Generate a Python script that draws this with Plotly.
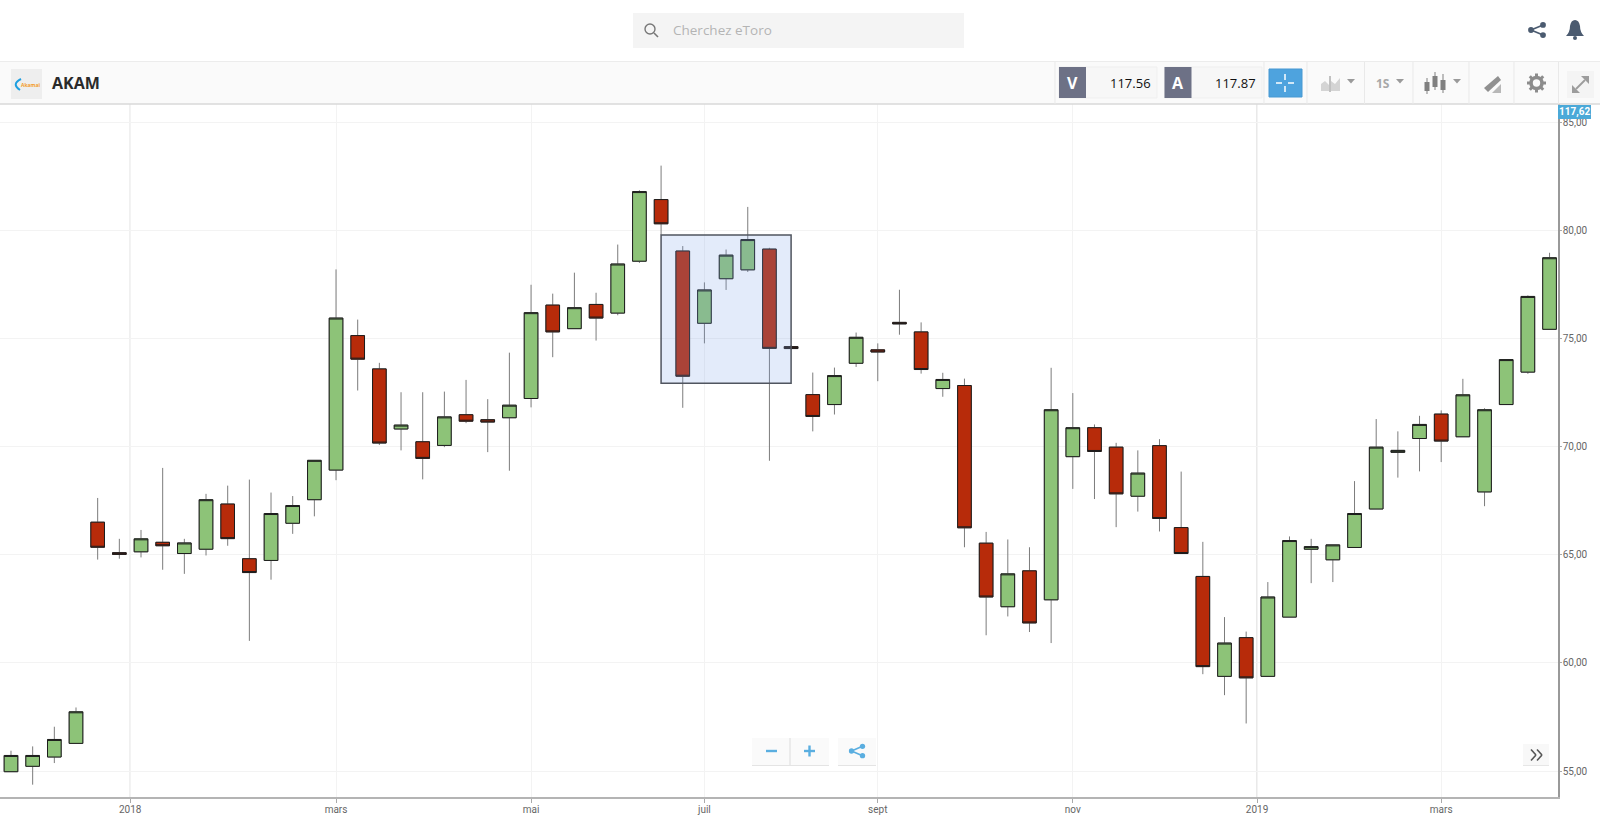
import re
import plotly.graph_objects as go

# ---------- data (weekly AKAM candles) ----------
weeks = list(range(72))
opens = [54.97,55.22,55.65,56.28,66.51,65.10,65.14,65.58,65.06,65.26,67.35,64.82,64.74,66.46,67.55,68.92,75.14,73.60,70.82,70.23,
         70.06,71.48,71.25,71.34,72.23,76.55,75.46,76.58,76.18,78.58,81.43,79.05,75.71,77.77,78.18,79.14,74.63,72.41,71.95,73.86,
         74.48,75.75,75.31,72.69,72.83,65.54,62.60,64.26,62.92,69.54,70.88,69.98,67.71,70.05,66.26,64.00,59.38,61.17,59.38,62.12,
         65.26,64.77,65.34,67.12,69.74,70.38,71.51,70.46,67.91,71.95,73.45,75.43]
closes = [55.72,55.72,56.46,57.74,65.35,65.02,65.74,65.42,65.55,67.55,65.75,64.18,66.91,67.28,69.37,75.95,74.05,70.17,71.00,69.46,
          71.38,71.18,71.14,71.92,76.20,75.31,76.43,75.95,78.45,81.80,80.31,73.26,77.25,78.86,79.58,74.55,74.54,71.40,73.29,75.06,
          74.38,75.68,73.57,73.11,66.25,63.05,64.12,61.85,71.71,70.88,69.78,67.82,68.78,66.68,65.06,59.83,60.92,59.31,63.05,65.66,
          65.38,65.46,66.91,69.98,69.83,71.03,70.26,72.40,71.71,74.03,76.95,78.74]
highs = [55.94,56.14,57.05,57.94,67.63,65.74,66.15,69.02,65.74,67.82,68.20,68.48,67.88,67.72,69.37,78.20,75.88,73.88,72.52,72.52,
         72.55,73.09,72.20,74.35,77.49,77.08,78.05,77.12,79.35,81.86,83.00,79.28,77.60,79.12,81.09,79.20,74.70,73.43,73.66,75.28,
         74.78,77.26,75.75,73.42,73.15,66.06,65.71,65.35,73.65,72.48,71.03,70.18,69.83,70.35,68.85,65.60,62.12,61.45,63.74,65.85,
         65.74,65.46,68.41,71.28,70.71,71.43,71.68,73.14,71.78,74.03,77.00,78.97]
lows = [54.97,54.37,55.37,56.28,64.78,64.82,64.88,64.31,64.12,64.97,65.42,61.02,63.85,65.97,66.78,68.45,72.60,70.08,69.83,68.49,
        69.98,71.09,69.75,68.89,71.82,74.14,75.46,74.91,76.08,78.50,79.80,71.80,74.78,77.25,78.08,69.35,74.50,70.71,71.49,73.69,
        73.03,75.18,73.38,72.31,65.35,61.28,62.15,61.43,60.92,68.05,67.58,66.28,67.00,66.08,65.06,59.48,58.51,57.20,59.35,62.12,
        63.69,63.74,65.34,67.12,68.57,68.86,69.29,70.46,67.25,71.95,73.37,75.43]

x_tick_pos = [5.5, 15, 24, 32, 40, 49, 57.5, 66]
x_tick_text = ["2018", "mars", "mai", "juil", "sept", "nov", "2019", "mars"]
year_ticks = [5.5, 57.5]
y_ticks = [55, 60, 65, 70, 75, 80, 85]
selection_weeks = [30.0, 36.0]
selection_prices = [72.94, 79.79]

ticker = "AKAM"
search_hint = "Cherchez eToro"
sell_price = "117.56"
buy_price = "117.87"
last_price = "117,62"
timeframe = "1S"

# ---------- page geometry ----------
W, H = 1600, 822
PLOT_R, PLOT_T, PLOT_B = 1558, 104, 797
GREEN, RED, EDGE, WICK = "#8dc378", "#b72b0a", "#1c1c1c", "#7c7c7c"
ICON, BLUE = "#9a9a9a", "#5aaee0"

def X(x): return x / W
def Y(y): return 1 - y / H

shapes, notes = [], []

def rect(x0, y0, x1, y1, fill="rgba(0,0,0,0)", line=None, lw=1):
    shapes.append(dict(type="rect", xref="paper", yref="paper", x0=X(x0), x1=X(x1), y0=Y(y0), y1=Y(y1),
                       fillcolor=fill, line=dict(color=line or "rgba(0,0,0,0)", width=lw if line else 0)))

def seg(x0, y0, x1, y1, color, lw=1):
    shapes.append(dict(type="line", xref="paper", yref="paper", x0=X(x0), x1=X(x1), y0=Y(y0), y1=Y(y1),
                       line=dict(color=color, width=lw)))

def dot(cx, cy, r, fill, line=None, lw=0):
    shapes.append(dict(type="circle", xref="paper", yref="paper", x0=X(cx-r), x1=X(cx+r), y0=Y(cy-r), y1=Y(cy+r),
                       fillcolor=fill, line=dict(color=line or "rgba(0,0,0,0)", width=lw)))

def svg(d, fill="rgba(0,0,0,0)", line=None, lw=0):
    toks = re.findall(r"[MLQCZ]|-?\d+\.?\d*", d)
    out, isx = [], True
    for t in toks:
        if t in "MLQCZ":
            out.append(t); isx = True
        else:
            out.append(f"{X(float(t)):.5f}" if isx else f"{Y(float(t)):.5f}")
            isx = not isx
    shapes.append(dict(type="path", xref="paper", yref="paper", path=" ".join(out), fillcolor=fill,
                       line=dict(color=line or "rgba(0,0,0,0)", width=lw)))

def text(x, y, s, size, color, anchor="left", bold=False, font="Open Sans"):
    notes.append(dict(xref="paper", yref="paper", x=X(x), y=Y(y), text=f"<b>{s}</b>" if bold else s, showarrow=False,
                      xanchor=anchor, yanchor="middle", align=anchor, font=dict(family=font, size=size, color=color)))

def share(cx, cy, s, color):
    seg(cx+s, cy-s*0.85, cx-s, cy, color, 1.6)
    seg(cx+s, cy+s*0.85, cx-s, cy, color, 1.6)
    for px, py in ((cx+s, cy-s*0.85), (cx+s, cy+s*0.85), (cx-s, cy)):
        dot(px, py, s*0.48, color)

def caret(cx, cy, color="#9a9a9a"):
    svg(f"M {cx-4} {cy-2} L {cx+4} {cy-2} L {cx} {cy+2.5} Z", fill=color)

# dark year gridlines, behind the candles
for t in year_ticks:
    shapes.append(dict(type="line", xref="x", yref="paper", x0=t, x1=t, y0=Y(PLOT_B), y1=Y(PLOT_T),
                       layer="below", line=dict(color="#d2d2d2", width=1)))

# selection rectangle over the candles
shapes.append(dict(type="rect", xref="x", yref="y", x0=selection_weeks[0], x1=selection_weeks[1],
                   y0=selection_prices[0], y1=selection_prices[1], fillcolor="rgba(121,160,231,0.21)",
                   line=dict(color="#50555f", width=1.5)))

# top bar
rect(633, 13, 964, 48, fill="#f4f4f4")
dot(650, 29, 5, "rgba(0,0,0,0)", "#777777", 1.4)
seg(654, 33, 658, 37, "#777777", 1.6)
text(671, 30.5, search_hint, 13.5, "#b4b4b4")
share(1537, 30, 6, "#4b5b70")
svg("M 1566 36 Q 1570 32 1570 26 Q 1571 20 1575 20 Q 1579 20 1580 26 Q 1580 32 1584 36 Z", fill="#4b5b70")
dot(1575, 38, 2, "#4b5b70")

# toolbar band
rect(0, 62, W, 104, fill="#fafafa")
seg(0, 61.5, W, 61.5, "#ececec", 1)
seg(0, 104, W, 104, "#d8d8d8", 1.5)
for sx in (1055, 1264, 1307, 1364.5, 1413, 1469, 1514, 1558.5):
    seg(sx, 62, sx, 104, "#e9e9e9", 1)

# logo and name
rect(11, 69, 42, 99, fill="#eeeeee")
shapes.append(dict(type="path", xref="paper", yref="paper",
                   path=f"M {X(21)} {Y(79)} Q {X(11)} {Y(84)} {X(20)} {Y(90)}",
                   line=dict(color="#1e9fe0", width=2), fillcolor="rgba(0,0,0,0)"))
text(19, 85.5, "Akamai", 5, "#f39c2a", bold=True)
text(50, 83, ticker, 16, "#2a2a2a", bold=True)

# sell / buy
for bx, fx, label, price in ((1059, 1157, "V", sell_price), (1164.5, 1262, "A", buy_price)):
    rect(bx, 67, fx, 98, fill="#f7f7f7", line="#efefef")
    rect(bx, 67, bx+27, 98, fill="#6d7186")
    text(bx+13.5, 83, label, 16, "#ffffff", anchor="center", bold=True)
    text(fx-4, 83, price, 13, "#111111", anchor="right")

# crosshair button
rect(1269, 69, 1302, 97, fill="#4ea3de", line="#4798d2")
for a, b, c, d in ((1276, 83, 1282, 83), (1288, 83, 1294, 83), (1285, 74, 1285, 80), (1285, 86, 1285, 92)):
    seg(a, b, c, d, "#ffffff", 1.5)

# chart-type icon
svg("M 1321 91 L 1321 84 L 1325 81 L 1329 85 L 1329 91 Z", fill="#d4d4d4")
svg("M 1331 91 L 1331 81 L 1335 84 L 1340 78 L 1340 91 Z", fill="#d4d4d4")
seg(1330, 76, 1330, 92, "#888888", 1)
caret(1351, 81)

# period
text(1383, 84, timeframe, 12, "#a8a8a8", anchor="center", bold=True)
caret(1400, 81)

# candle icon
for cx, t0, b0, t1, b1 in ((1427, 78, 88, 82, 91), (1435, 72, 91, 76, 87), (1443, 74, 94, 80, 90)):
    seg(cx, t0, cx, b1 + 3, "#808080", 1)
    rect(cx-2.5, t1 if t1 < b0 else t0, cx+2.5, b1, fill="#808080")
caret(1457, 81)

# drawing tool icon
svg("M 1484 88 L 1498 76 L 1501 80 L 1488 92 Z", fill="#909090")
svg("M 1492 93 L 1501 84 L 1501 93 Z", fill="#b8b8b8")

# gear
dot(1536.5, 83, 5.5, "rgba(0,0,0,0)", "#8c8c8c", 3.6)
for dx, dy in ((0, 9.5), (0, -9.5), (9.5, 0), (-9.5, 0), (6.7, 6.7), (-6.7, 6.7), (6.7, -6.7), (-6.7, -6.7)):
    seg(1536.5+dx*0.68, 83+dy*0.68, 1536.5+dx, 83+dy, "#8c8c8c", 3)

# expand
rect(1567, 71, 1594, 98, fill="#f4f4f4")
seg(1576, 89, 1585, 80, "#9c9c9c", 1.8)
svg("M 1581 76 L 1589 76 L 1589 84 Z", fill="#9c9c9c")
svg("M 1572 85 L 1572 93 L 1580 93 Z", fill="#9c9c9c")

# last-price tag
rect(1558, 105, 1591, 119, fill="#4ba9d8")
text(1574.5, 112, last_price, 10, "#ffffff", anchor="center", bold=True, font="Roboto")

# zoom buttons
rect(752, 740, 829, 766, fill="#e4e4e4")
rect(752, 738, 829, 765, fill="#fafafa")
seg(790, 738, 790, 765, "#e6e6e6", 1.5)
seg(766, 751, 777, 751, BLUE, 2.4)
seg(804, 751, 815, 751, BLUE, 2.4)
seg(809.5, 745.5, 809.5, 756.5, BLUE, 2.4)
rect(838, 740, 876, 766, fill="#e4e4e4")
rect(838, 738, 876, 765, fill="#fafafa")
share(857, 751, 5.5, BLUE)

# scroll-to-latest button
rect(1523, 746, 1549, 766, fill="#e6e6e6")
rect(1523, 744, 1549, 765, fill="#f8f8f8")
seg(1531, 749.5, 1536, 755, "#555555", 1.6)
seg(1536, 755, 1531, 760.5, "#555555", 1.6)
seg(1537, 749.5, 1542, 755, "#555555", 1.6)
seg(1542, 755, 1537, 760.5, "#555555", 1.6)

# ---------- traces ----------
fig = go.Figure()
fig.add_trace(go.Candlestick(
    x=weeks, open=opens, high=highs, low=lows, close=closes, whiskerwidth=0,
    increasing=dict(line=dict(color=WICK, width=1), fillcolor=GREEN),
    decreasing=dict(line=dict(color=WICK, width=1), fillcolor=RED),
    hoverinfo="skip", showlegend=False))
fig.add_trace(go.Candlestick(
    x=weeks, open=opens, close=closes,
    high=[max(o, c) for o, c in zip(opens, closes)],
    low=[min(o, c) for o, c in zip(opens, closes)],
    whiskerwidth=0,
    increasing=dict(line=dict(color=EDGE, width=1), fillcolor=GREEN),
    decreasing=dict(line=dict(color=EDGE, width=1), fillcolor=RED),
    hoverinfo="skip", showlegend=False))

fig.update_layout(
    width=W, height=H, margin=dict(l=0, r=0, t=0, b=0, pad=0),
    paper_bgcolor="#ffffff", plot_bgcolor="#ffffff", showlegend=False,
    separators=", ", boxmode="overlay", boxgap=0.37, boxgroupgap=0, dragmode=False,
    font=dict(family="Roboto", size=10, color="#666666"),
    shapes=shapes, annotations=notes,
    xaxis=dict(domain=[0, X(PLOT_R)], range=[-0.507, 71.39], rangeslider=dict(visible=False),
               tickmode="array", tickvals=x_tick_pos, ticktext=x_tick_text,
               showgrid=True, gridcolor="#f3f3f3", gridwidth=1, zeroline=False,
               showline=True, linecolor="#b4b4b4", linewidth=1.5,
               ticks="outside", ticklen=4, tickcolor="#aaaaaa", ticklabelstandoff=-2,
               tickfont=dict(size=10, color="#666666")),
    yaxis=dict(domain=[Y(PLOT_B), Y(PLOT_T)], range=[53.8, 85.85], side="right",
               tickmode="array", tickvals=y_ticks, tickformat=".2f",
               showgrid=True, gridcolor="#f3f3f3", gridwidth=1, zeroline=False,
               showline=True, linecolor="#999999", linewidth=1.5,
               ticks="outside", ticklen=2, tickcolor="#aaaaaa", ticklabelstandoff=-1,
               tickfont=dict(size=10, color="#666666")),
)

fig.write_html("out.html", config=dict(displayModeBar=False),
               post_script="document.body.style.margin='0';document.body.style.overflow='hidden';")
